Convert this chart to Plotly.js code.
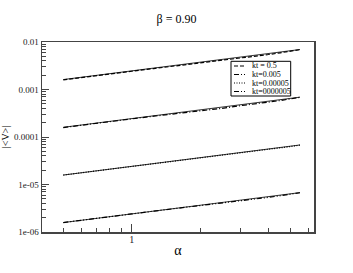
<!DOCTYPE html>
<html>
<head>
<meta charset="utf-8">
<script src="https://cdn.plot.ly/plotly-3.0.1.min.js"></script>
<style>html,body{margin:0;padding:0;background:#fff;}#chart{width:353px;height:273px;}</style>
</head>
<body>
<div id="chart"></div>
<script>
// alpha values
const alpha = [0.5, 0.6, 0.7, 0.8, 0.9, 1.0, 1.25, 1.5, 1.75, 2.0, 2.5, 3.0, 3.5, 4.0, 4.5, 5.0, 5.5];
// |<V>| for each kt
const v_kt05      = [1.60e-3, 1.77e-3, 1.93e-3, 2.09e-3, 2.27e-3, 2.42e-3, 2.76e-3, 3.06e-3, 3.30e-3, 3.56e-3, 4.05e-3, 4.52e-3, 4.98e-3, 5.45e-3, 5.92e-3, 6.40e-3, 6.90e-3];
const v_kt0005    = [1.58e-4, 1.75e-4, 1.92e-4, 2.08e-4, 2.25e-4, 2.41e-4, 2.74e-4, 3.02e-4, 3.31e-4, 3.52e-4, 4.02e-4, 4.55e-4, 4.95e-4, 5.38e-4, 5.85e-4, 6.35e-4, 6.85e-4];
const v_kt000005  = [1.58e-5, 1.76e-5, 1.93e-5, 2.09e-5, 2.25e-5, 2.40e-5, 2.74e-5, 3.04e-5, 3.30e-5, 3.55e-5, 4.04e-5, 4.50e-5, 4.96e-5, 5.40e-5, 5.86e-5, 6.30e-5, 6.75e-5];
const v_kt0000005 = [1.58e-6, 1.75e-6, 1.92e-6, 2.08e-6, 2.24e-6, 2.40e-6, 2.75e-6, 3.05e-6, 3.32e-6, 3.50e-6, 4.00e-6, 4.48e-6, 4.93e-6, 5.36e-6, 5.80e-6, 6.25e-6, 6.70e-6];
// thin solid reference (fit) lines
const fitAlpha = [0.5, 5.5];
const fit_kt05      = [1.62e-3, 6.95e-3];
const fit_kt0005    = [1.60e-4, 6.90e-4];
const fit_kt000005  = [1.58e-5, 6.80e-5];
const fit_kt0000005 = [1.58e-6, 6.75e-6];

const names = ["kt = 0.5", "kt=0.005", "kt=0.00005", "kt=0000005"];
const series = [v_kt05, v_kt0005, v_kt000005, v_kt0000005];
const fits = [fit_kt05, fit_kt0005, fit_kt000005, fit_kt0000005];
const dashes = ["4px,2px", "5px,2px,1px,2px", "1px,1.5px", "5px,2px,1px,2px,1px,2px"];

const traces = [];
fits.forEach((f) => traces.push({
  x: fitAlpha, y: f, mode: "lines", showlegend: false, hoverinfo: "skip",
  line: {color: "#000", width: 0.8}
}));
series.forEach((s, i) => traces.push({
  x: alpha, y: s, mode: "lines", name: names[i], showlegend: false,
  line: {color: "#000", width: 1.2, dash: dashes[i]}
}));

// compact legend box (paper coordinates)
const W = 353, H = 273, mL = 42, mR = 39, mT = 42, mB = 41;
const pw = W - mL - mR, ph = H - mT - mB;
const px = (x) => (x - mL) / pw;
const py = (y) => (H - mB - y) / ph;
const shapes = [{type: "rect", xref: "paper", yref: "paper",
  x0: px(231), x1: px(290.7), y0: py(96), y1: py(61.3),
  line: {color: "#000", width: 1}, fillcolor: "#fff", layer: "above"}];
const annotations = [];
names.forEach((n, i) => {
  const yy = 66 + i * 8.5;
  shapes.push({type: "line", xref: "paper", yref: "paper",
    x0: px(234), x1: px(245), y0: py(yy), y1: py(yy),
    line: {color: "#000", width: 1.2, dash: dashes[i]}, layer: "above"});
  annotations.push({xref: "paper", yref: "paper", x: px(250), y: py(yy),
    xanchor: "left", yanchor: "middle", showarrow: false, text: n,
    font: {family: "Liberation Serif, serif", size: 8, color: "#000"}});
});

const serif = "Liberation Serif, Times New Roman, serif";
const layout = {
  width: W, height: H,
  margin: {l: mL, r: mR, t: mT, b: mB},
  paper_bgcolor: "#fff", plot_bgcolor: "#fff",
  font: {family: serif, color: "#000", size: 10},
  title: {text: "β = 0.90", font: {family: serif, size: 12, color: "#000"}, x: 0.5, xanchor: "center", y: 0.93, yanchor: "middle"},
  showlegend: false,
  shapes: shapes,
  annotations: annotations,
  xaxis: {
    type: "log", range: [Math.log10(0.403), Math.log10(6.34)],
    showgrid: false, zeroline: false,
    showline: true, mirror: true, linecolor: "#444", linewidth: 1.5,
    ticks: "inside", ticklen: 8, tickwidth: 1, tickcolor: "#444",
    tickmode: "array", tickvals: [1], ticktext: ["1"],
    tickfont: {family: serif, size: 10, color: "#222"},
    ticklabelstandoff: -3,
    minor: {ticks: "inside", ticklen: 4, tickwidth: 1, tickcolor: "#444",
            tickmode: "array", tickvals: [0.5, 0.6, 0.7, 0.8, 0.9, 2, 3, 4, 5, 6]},
    title: {text: "α", font: {family: serif, size: 14, color: "#000"}, standoff: 1}
  },
  yaxis: {
    type: "log", range: [-6, -2],
    showgrid: false, zeroline: false,
    showline: true, mirror: true, linecolor: "#444", linewidth: 1.5,
    ticks: "inside", ticklen: 7, tickwidth: 1, tickcolor: "#444",
    tickmode: "array", tickvals: [1e-6, 1e-5, 1e-4, 1e-3, 1e-2],
    ticktext: ["1e-06", "1e-05", "0.0001", "0.001", "0.01"],
    tickfont: {family: serif, size: 9, color: "#222"},
    minor: {ticks: "inside", ticklen: 4, tickwidth: 1, tickcolor: "#444",
            tickmode: "array",
            tickvals: [2e-6,3e-6,4e-6,5e-6,6e-6,7e-6,8e-6,9e-6,
                       2e-5,3e-5,4e-5,5e-5,6e-5,7e-5,8e-5,9e-5,
                       2e-4,3e-4,4e-4,5e-4,6e-4,7e-4,8e-4,9e-4,
                       2e-3,3e-3,4e-3,5e-3,6e-3,7e-3,8e-3,9e-3]},
    title: {text: "|&lt;V&gt;|", font: {family: serif, size: 10, color: "#000"}, standoff: 2}
  }
};
Plotly.newPlot("chart", traces, layout, {displayModeBar: false, staticPlot: true});
</script>
</body>
</html>
